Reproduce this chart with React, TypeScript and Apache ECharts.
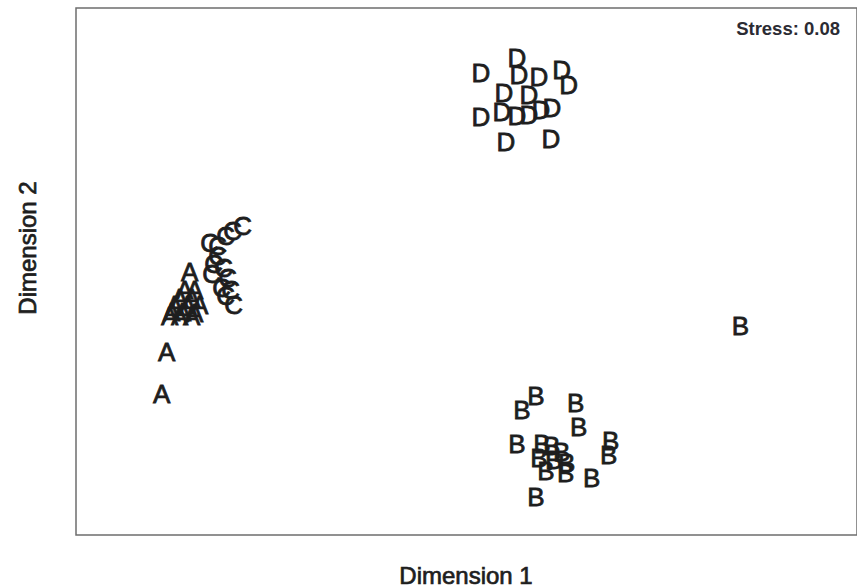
import React, { useEffect, useRef } from "react";
import * as echarts from "echarts";

// MDS coordinates (arbitrary units) per group
const groupA: [number, number][] = [
  [-3.0, -0.81], [-3.05, -1.23], [-2.77, -0.01], [-2.82, -0.19], [-2.72, -0.19],
  [-2.87, -0.27], [-2.75, -0.27], [-2.92, -0.34], [-2.79, -0.34], [-2.67, -0.34],
  [-2.95, -0.41], [-2.84, -0.41], [-2.72, -0.42], [-2.97, -0.45], [-2.87, -0.45],
  [-2.75, -0.45],
];
const groupB: [number, number][] = [
  [0.7, -1.25], [0.56, -1.39], [1.1, -1.32], [1.13, -1.56], [0.51, -1.73],
  [0.76, -1.73], [0.86, -1.75], [0.96, -1.81], [0.73, -1.87], [0.88, -1.89],
  [1.01, -1.92], [0.8, -2.0], [1.0, -2.02], [1.26, -2.07], [1.45, -1.7],
  [1.43, -1.84], [0.7, -2.26], [2.75, -0.55],
];
const groupC: [number, number][] = [
  [-2.24, 0.45], [-2.34, 0.4], [-2.41, 0.35], [-2.57, 0.28], [-2.49, 0.25],
  [-2.49, 0.15], [-2.53, 0.07], [-2.43, 0.03], [-2.55, -0.03], [-2.39, -0.07],
  [-2.45, -0.17], [-2.36, -0.19], [-2.33, -0.34], [-2.41, -0.25],
];
const groupD: [number, number][] = [
  [0.15, 1.98], [0.51, 2.13], [0.53, 1.96], [0.73, 1.94], [0.96, 2.01],
  [1.03, 1.86], [0.38, 1.78], [0.63, 1.76], [0.15, 1.54], [0.36, 1.59],
  [0.51, 1.55], [0.63, 1.56], [0.75, 1.61], [0.86, 1.63], [0.4, 1.29],
  [0.85, 1.32],
];
const groups: { name: string; data: [number, number][] }[] = [
  { name: "A", data: groupA },
  { name: "B", data: groupB },
  { name: "C", data: groupC },
  { name: "D", data: groupD },
];
const stressText = "Stress: 0.08";
const xTitle = "Dimension 1";
const yTitle = "Dimension 2";

const FONT = "'Liberation Sans', Arial, Helvetica, sans-serif";
const INK = "#1e1e1e";

export default function App() {
  const ref = useRef<HTMLDivElement>(null);
  useEffect(() => {
    if (!ref.current) return;
    const chart = echarts.init(ref.current, null, { renderer: "svg" });
    chart.setOption({
      animation: false,
      backgroundColor: "#ffffff",
      grid: {
        left: 76,
        right: -2,
        top: 8,
        bottom: 53,
        show: true,
        borderColor: "#6e6e6e",
        borderWidth: 1.5,
        backgroundColor: "transparent",
      },
      xAxis: {
        type: "value",
        min: -3.91,
        max: 3.92,
        axisLine: { show: false },
        axisTick: { show: false },
        axisLabel: { show: false },
        splitLine: { show: false },
      },
      yAxis: {
        type: "value",
        min: -2.64,
        max: 2.63,
        axisLine: { show: false },
        axisTick: { show: false },
        axisLabel: { show: false },
        splitLine: { show: false },
      },
      series: groups.map((g) => ({
        type: "scatter",
        name: g.name,
        data: g.data,
        symbol: "circle",
        symbolSize: 1,
        itemStyle: { color: "rgba(0,0,0,0)" },
        label: {
          show: true,
          position: "inside",
          formatter: g.name,
          color: INK,
          opacity: 1,
          fontSize: 26,
          fontFamily: FONT,
          textBorderColor: INK,
          textBorderWidth: 0.8,
        },
        silent: true,
      })),
      graphic: [
        {
          type: "text",
          right: 17,
          top: 19,
          style: {
            text: stressText,
            fill: "#2b2b33",
            font: `bold 18.5px ${FONT}`,
          },
        },
        {
          type: "text",
          x: 466,
          y: 575,
          style: {
            text: xTitle,
            fill: INK,
            font: `24px ${FONT}`,
            align: "center",
            verticalAlign: "middle",
            stroke: INK,
            lineWidth: 0.7,
          },
        },
        {
          type: "text",
          x: 27,
          y: 248,
          rotation: Math.PI / 2,
          style: {
            text: yTitle,
            fill: INK,
            font: `24px ${FONT}`,
            align: "center",
            verticalAlign: "middle",
            stroke: INK,
            lineWidth: 0.7,
          },
        },
      ],
    });
    return () => chart.dispose();
  }, []);
  return (
    <div
      ref={ref}
      style={{ position: "absolute", left: 0, top: 0, width: 857, height: 588 }}
    />
  );
}
